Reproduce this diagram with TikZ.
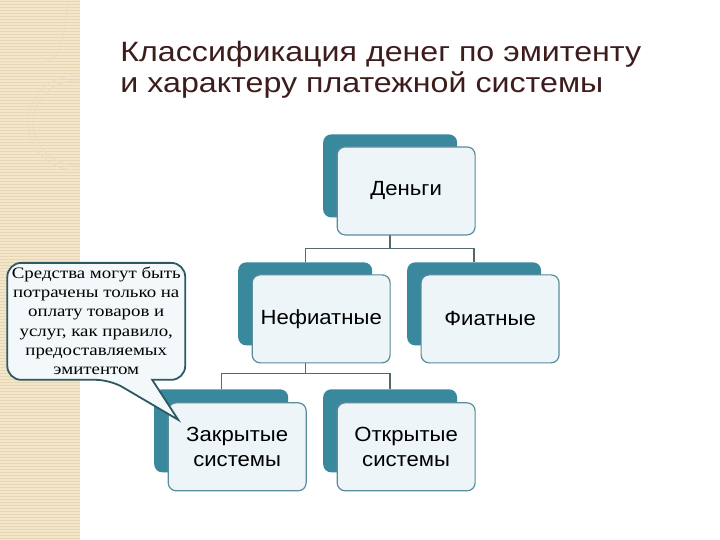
\documentclass[tikz,border=0pt]{standalone}
\usepackage{fontspec}
\setmainfont{Liberation Sans}
\newfontfamily\titlefont[FakeStretch=1.15]{Liberation Sans}
\newfontfamily\boxfont[FakeStretch=1.08]{Liberation Sans}
\newfontfamily\notefont[FakeStretch=1.18]{Liberation Serif}

\definecolor{titlebrown}{HTML}{3D1C1C}
\definecolor{tealbox}{HTML}{3A889D}
\definecolor{frontfill}{HTML}{EDF5F8}
\definecolor{frontedge}{HTML}{5B8C99}
\definecolor{linkgray}{HTML}{55686C}
\definecolor{notefill}{HTML}{F3F9FB}
\definecolor{noteline}{HTML}{2D5965}
\definecolor{stripbeige}{HTML}{F3E6CA}
\definecolor{stripline}{HTML}{E8D6B2}

\tikzset{
    backbox/.style={rectangle, rounded corners=8pt, fill=tealbox,
        minimum width=134pt, minimum height=83pt},
    frontbox/.style={rectangle, rounded corners=8pt, draw=frontedge, line width=1.2pt,
        fill=frontfill, minimum width=138pt, minimum height=88pt, align=center,
        font=\boxfont\fontsize{20.5}{25}\selectfont},
    link/.style={draw=linkgray, line width=1.3pt},
    titletext/.style={text=titlebrown, inner sep=0pt, font=\titlefont\fontsize{28}{31}\selectfont},
    notetext/.style={align=center, inner sep=0pt, font=\notefont\fontsize{16}{19.2}\selectfont},
    noteedge/.style={draw=noteline, line width=1.8pt, fill=notefill},
}

\begin{document}
\begin{tikzpicture}[x=1pt,y=-1pt]
    % page and beige strip on the left
    \fill[white] (0,0) rectangle (720,540);
    \fill[stripbeige] (0,0) rectangle (80,540);
    \foreach \y in {1.5,4.5,...,540} {
        \draw[stripline, line width=0.6pt] (0,\y) -- (80,\y);
    }
    \begin{scope}
        \clip (0,0) rectangle (80,540);
        \draw[stripline!80!brown!60, line width=1pt] (75,123) circle (47);
        \draw[stripline!80!brown!60, line width=1pt] (75,123) circle (42);
        \draw[stripline!80!brown!60, line width=1pt] (0,62) -- (40,62) to[out=0,in=-110] (70,0);
    \end{scope}

    % Title
    \node[titletext, anchor=base west] (title-a) at (120,62) {Классификация денег по эмитенту};
    \node[titletext, anchor=base west] (title-b) at (120,93) {и характеру платежной системы};

    % Back boxes
    \node[backbox] (money-b) at (390,176) {};
    \node[backbox] (nef-b) at (305,304) {};
    \node[backbox] (fiat-b) at (474,304) {};
    \node[backbox] (closed-b) at (221,431) {};
    \node[backbox] (open-b) at (390,431) {};

    % Connectors
    \draw[link] (money-b.south) -- ++(0,31) -| (nef-b.north);
    \draw[link] (money-b.south) -- ++(0,31) -| (fiat-b.north);
    \draw[link] (nef-b.south) -- ++(0,28) -| (closed-b.north);
    \draw[link] (nef-b.south) -- ++(0,28) -| (open-b.north);

    % Front boxes
    \node[frontbox] (money) at (406,191) {Деньги};
    \node[frontbox] (nef) at (321,319) {Нефиатные};
    \node[frontbox] (fiat) at (490,319) {Фиатные};
    \node[frontbox] (closed) at (237,447) {Закрытые\\системы};
    \node[frontbox] (open) at (406,447) {Открытые\\системы};

    % Callout
    \coordinate (note-tip) at (178,420);
    \draw[noteedge] (152,380) [rounded corners=14pt] -- (185,380) -- (185,263)
        -- (7,263) -- (7,380) -- (110,380) [sharp corners] -- (note-tip) -- cycle;
    \node[notetext] (note) at (96,321) {Средства могут быть\\потрачены только на\\оплату товаров и\\услуг, как правило,\\предоставляемых\\эмитентом};
\end{tikzpicture}
\end{document}
